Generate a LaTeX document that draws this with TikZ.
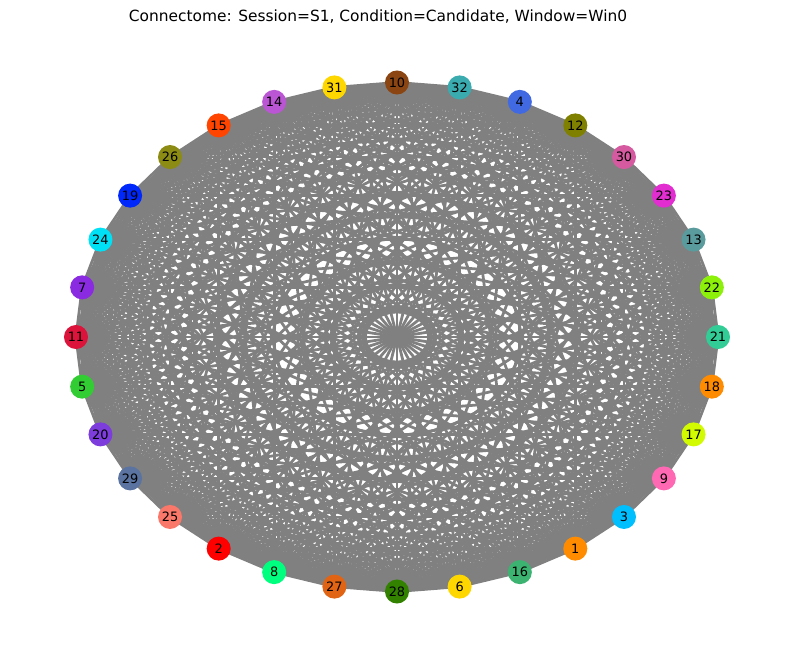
\documentclass[tikz,border=0pt]{standalone}
\usepackage{fontspec}
\setmainfont{DejaVu Sans}
\usetikzlibrary{backgrounds}
\definecolor{EdgeGray}{RGB}{128,128,128}
\definecolor{c1}{RGB}{255,140,0}
\definecolor{c2}{RGB}{255,0,0}
\definecolor{c3}{RGB}{0,191,255}
\definecolor{c4}{RGB}{65,105,225}
\definecolor{c5}{RGB}{50,205,50}
\definecolor{c6}{RGB}{255,215,0}
\definecolor{c7}{RGB}{138,43,226}
\definecolor{c8}{RGB}{0,255,127}
\definecolor{c9}{RGB}{255,105,180}
\definecolor{c10}{RGB}{139,69,19}
\definecolor{c11}{RGB}{220,20,60}
\definecolor{c12}{RGB}{128,128,0}
\definecolor{c13}{RGB}{90,155,158}
\definecolor{c14}{RGB}{186,85,211}
\definecolor{c15}{RGB}{255,69,0}
\definecolor{c16}{RGB}{60,179,113}
\definecolor{c17}{RGB}{210,250,0}
\definecolor{c18}{RGB}{255,140,0}
\definecolor{c19}{RGB}{0,40,250}
\definecolor{c20}{RGB}{125,60,220}
\definecolor{c21}{RGB}{50,205,150}
\definecolor{c22}{RGB}{140,240,10}
\definecolor{c23}{RGB}{226,45,208}
\definecolor{c24}{RGB}{0,225,245}
\definecolor{c25}{RGB}{250,120,105}
\definecolor{c26}{RGB}{140,140,20}
\definecolor{c27}{RGB}{225,100,20}
\definecolor{c28}{RGB}{50,130,0}
\definecolor{c29}{RGB}{90,115,160}
\definecolor{c30}{RGB}{213,90,160}
\definecolor{c31}{RGB}{255,215,0}
\definecolor{c32}{RGB}{58,172,176}

\begin{document}
\begin{tikzpicture}[x=.72pt,y=-.72pt,
  region/.style={circle,fill=c#1,minimum size=17.3pt,inner sep=0pt,font=\fontsize{9.3}{11}\selectfont},
  link/.style={EdgeGray,line width=2pt}]
  \useasboundingbox (0,0) rectangle (794,656);
  \node (title) at (378,17) {\fontsize{11.1}{13}\selectfont Connectome: Session=S1, Condition=Candidate, Window=Win0};
  % regions round the ellipse, counter-clockwise from the right
  \foreach \r [count=\k from 0] in {21,22,13,23,30,12,4,32,10,31,14,15,26,19,24,7,
                                     11,5,20,29,25,2,8,27,28,6,16,1,3,9,17,18}
    \node[region=\r] (v\r) at ({397+321*cos(\k*11.25)},{337-254.5*sin(\k*11.25)}) {\r};
  % every pair is linked
  \begin{pgfonlayer}{background}
    \foreach \a [count=\i] in {21,22,13,23,30,12,4,32,10,31,14,15,26,19,24,7,
                               11,5,20,29,25,2,8,27,28,6,16,1,3,9,17,18}
      \foreach \b [count=\j] in {21,22,13,23,30,12,4,32,10,31,14,15,26,19,24,7,
                                 11,5,20,29,25,2,8,27,28,6,16,1,3,9,17,18}
        {\ifnum\j>\i \draw[link] (v\a.center) -- (v\b.center);\fi}
  \end{pgfonlayer}
\end{tikzpicture}
\end{document}
